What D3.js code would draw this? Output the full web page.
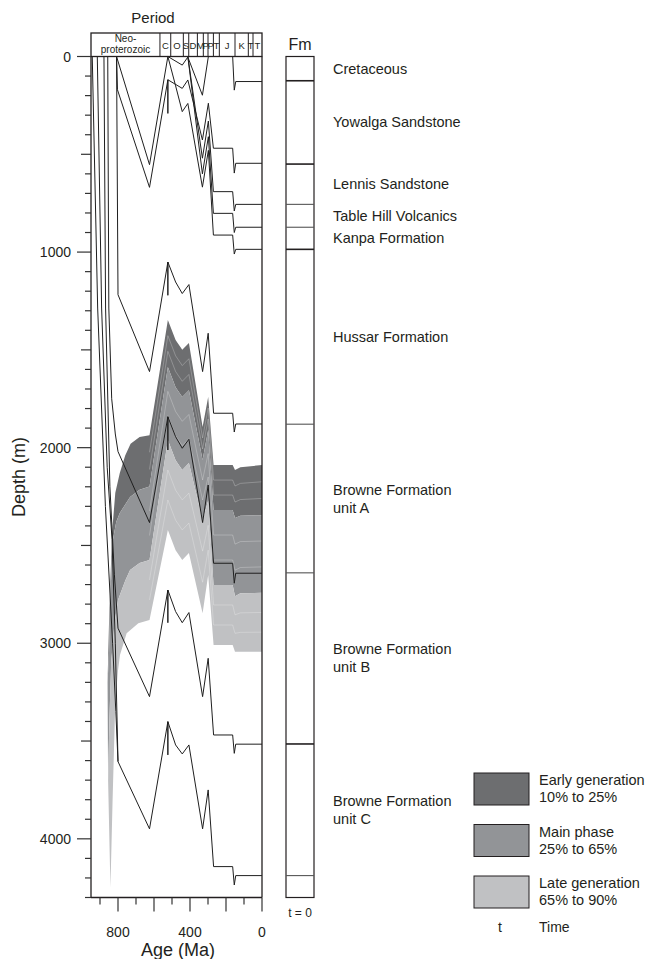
<!DOCTYPE html>
<html><head><meta charset="utf-8">
<script src="https://cdn.jsdelivr.net/npm/d3@7"></script>
<style>body{margin:0;background:#fff}text{font-family:"Liberation Sans",Arial,sans-serif;fill:#231f20}</style>
</head><body>
<svg id="c" width="650" height="959"></svg>
<script>
// ---------- data ----------
const ageTicks = [900,800,700,600,500,400,300,200,100,0];
const ageLabels = [800,400,0];
const depthTicks = d3.range(0,4301,100);
const depthLabels = [0,1000,2000,3000,4000];

const periodNames = ["Neo-|proterozoic","C","O","S","D","M","P","P","T","J","K","T","T"];
const periodBounds = [950,567,507,437,407,359,326,300,270,237,150,76,50,0];

const fmNames = ["Cretaceous","Yowalga Sandstone","Lennis Sandstone","Table Hill Volcanics","Kanpa Formation","Hussar Formation","Browne Formation|unit A","Browne Formation|unit B","Browne Formation|unit C"];
const fmBase = [124,550,756,873,986,1880,2640,3515,4188];
const fmBaseBold = [true,true,false,false,true,false,false,true,false];

// burial history horizons: [age Ma, depth m]
const hzErodedA = [[808,0],[625,553],[523,0]];
const hzErodedB = [[523,0],[443,44],[412,3],[331,198],[298,0]];
const hzCretaceous = [[163,0],[154,172],[146,128],[0,128]];
const hzYowalga = [[808,0],[803,170],[625,669],[523,119],[523,291],[523,119],[443,163],[412,120],[331,427],[298,239],[270,469],[163,469],[154,596],[146,546],[0,546]];
const hzLennis = [[412,0],[331,520],[298,330],[270,691],[163,691],[154,790],[146,756],[0,756]];
const hzTableHill = [[412,0],[331,600],[298,410],[270,802],[163,802],[154,900],[146,873],[0,873]];
const hzKanpa = [[523,0],[480,150],[443,282],[412,240],[331,668],[298,480],[270,913],[163,913],[154,1010],[146,986],[0,986]];
const hzHussar = [[808,0],[800,1218],[625,1611],[523,1051],[523,1221],[523,1051],[480,1153],[443,1212],[406,1166],[330,1611],[299,1415],[269,1824],[163,1824],[154,1920],[146,1879],[0,1879]];
const hzBrowneA = [[857,0],[851,1286],[835,1750],[815,1930],[800,2020],[625,2383],[523,1842],[523,2012],[523,1842],[480,1944],[443,2003],[406,1957],[330,2383],[299,2191],[269,2591],[163,2591],[154,2693],[146,2642],[0,2642]];
const hzBrowneB = [[878,0],[869,1286],[845,2200],[820,2650],[800,2923],[625,3273],[523,2728],[523,2895],[523,2728],[480,2838],[443,2895],[406,2843],[330,3273],[299,3077],[269,3469],[163,3469],[154,3563],[146,3516],[0,3516]];
const hzBrowneC = [[943,0],[913,1286],[870,2300],[830,3000],[812,3350],[800,3605],[625,3949],[523,3401],[523,3571],[523,3401],[480,3520],[443,3566],[406,3520],[330,3949],[299,3750],[269,4142],[163,4142],[154,4236],[146,4188],[0,4188]];
const hzExtra = [[915,0],[891,1286],[860,2100],[833,2471],[815,3000],[800,3605]];

// hydrocarbon generation window boundaries [age, depth]
const genEarlyTop = [[858,3200],[850,2900],[840,2620],[830,2400],[815,2230],[790,2130],[760,2040],[730,1980],[680,1945],[625,1936],[523,1347],[480,1450],[443,1500],[406,1465],[330,1894],[299,1741],[269,2089],[163,2089],[150,2114],[120,2100],[0,2089]];
const genMainTop = [[858,3200],[850,3050],[844,2800],[830,2480],[810,2380],[790,2334],[733,2252],[680,2215],[625,2199],[523,1588],[480,1691],[443,1741],[406,1706],[330,2063],[299,1910],[269,2319],[163,2319],[150,2360],[120,2348],[0,2345]];
const genLateTop = [[855,3700],[848,3400],[838,3100],[820,2900],[800,2779],[760,2680],[733,2625],[680,2590],[625,2574],[523,1961],[480,2064],[443,2114],[406,2079],[330,2370],[299,2270],[269,2702],[163,2702],[150,2760],[120,2745],[0,2742]];
const genLateBase = [[842,4250],[830,3800],[815,3300],[800,3140],[789,3060],[752,2949],[687,2898],[625,2881],[523,2421],[480,2524],[443,2574],[406,2539],[330,2847],[299,2651],[269,3009],[163,3009],[150,3044],[120,3044],[0,3044]];

const legendNames = ["Early generation|10% to 25%","Main phase|25% to 65%","Late generation|65% to 90%"];
const genColors = ["#6d6e70","#929497","#c0c1c3"];

// ---------- drawing ----------
const svg = d3.select("#c");
const x = d3.scaleLinear().domain([950,0]).range([91,262]);
const y = d3.scaleLinear().domain([0,4300]).range([56.5,897.5]);
const line = d3.line().x(d=>x(d[0])).y(d=>y(d[1]));

// generation bands
const bounds = [genEarlyTop,genMainTop,genLateTop,genLateBase];
for(let i=0;i<3;i++){
  const pts = bounds[i].concat(bounds[i+1].slice().reverse());
  svg.append("path").attr("d", line(pts)+"Z").attr("fill", genColors[i]).attr("stroke","none");
}
// faint internal subdivision lines (interpolated between band boundaries, ages <= 625)
for(let i=0;i<3;i++){
  const a = bounds[i].filter(p=>p[0]<=625), b = bounds[i+1].filter(p=>p[0]<=625);
  [1/3,2/3].forEach(fr=>{
    const pts = a.map((p,k)=>[p[0], p[1]+fr*(b[k][1]-p[1])]);
    svg.append("path").attr("d",line(pts)).attr("fill","none").attr("stroke","#fff").attr("stroke-opacity",0.35).attr("stroke-width",0.7);
  });
}

// horizons
const horizons = [hzErodedA,hzErodedB,hzCretaceous,hzYowalga,hzLennis,hzTableHill,hzKanpa,hzHussar,hzBrowneA,hzBrowneB,hzBrowneC,hzExtra];
svg.append("g").selectAll("path").data(horizons).join("path")
  .attr("d", line).attr("fill","none").attr("stroke","#1f1f1f").attr("stroke-width",1).attr("stroke-linejoin","miter");

// frame
const f = svg.append("g").attr("stroke","#231f20").attr("fill","none").attr("stroke-width",1.3);
f.append("rect").attr("x",91).attr("y",33).attr("width",171).attr("height",y(0)-33);
f.append("line").attr("x1",91).attr("x2",91).attr("y1",56.5).attr("y2",y(4300));
f.append("line").attr("x1",262).attr("x2",262).attr("y1",56.5).attr("y2",y(4300));
f.append("line").attr("x1",91).attr("x2",262).attr("y1",y(4300)).attr("y2",y(4300));

// period bar
periodBounds.slice(1,-1).forEach(a=>{
  svg.append("line").attr("x1",x(a)).attr("x2",x(a)).attr("y1",33).attr("y2",56.5).attr("stroke","#231f20").attr("stroke-width",1);
});
periodNames.forEach((n,i)=>{
  const cx = (x(periodBounds[i])+x(periodBounds[i+1]))/2;
  const parts = n.split("|");
  if(parts.length>1){
    parts.forEach((p,j)=>svg.append("text").attr("x",cx).attr("y",42+j*11).attr("text-anchor","middle").attr("font-size",10).text(p));
  } else {
    svg.append("text").attr("x",cx).attr("y",49).attr("text-anchor","middle").attr("font-size",9.5).text(n);
  }
});
svg.append("text").attr("x",153).attr("y",23).attr("text-anchor","middle").attr("font-size",15).text("Period");

// y axis ticks
depthTicks.forEach(d=>{
  const len = d%1000===0?14:(d%500===0?10:6);
  svg.append("line").attr("x1",91-len).attr("x2",91).attr("y1",y(d)).attr("y2",y(d)).attr("stroke","#333").attr("stroke-width",1.2);
});
depthLabels.forEach(d=>svg.append("text").attr("x",71).attr("y",y(d)+5).attr("text-anchor","end").attr("font-size",14).text(d));
svg.append("text").attr("transform",`translate(25,${y(2150)}) rotate(-90)`).attr("text-anchor","middle").attr("font-size",18).text("Depth (m)");

// x axis ticks
ageTicks.forEach(a=>{
  const len = a%200===0?14:7;
  svg.append("line").attr("x1",x(a)).attr("x2",x(a)).attr("y1",y(4300)).attr("y2",y(4300)+len).attr("stroke","#333").attr("stroke-width",1.2);
});
ageLabels.forEach(a=>svg.append("text").attr("x",x(a)).attr("y",937).attr("text-anchor","middle").attr("font-size",14).text(a));
svg.append("text").attr("x",178).attr("y",956).attr("text-anchor","middle").attr("font-size",18).text("Age (Ma)");

// formation column
const fx0=286, fx1=314;
svg.append("rect").attr("x",fx0).attr("y",y(0)).attr("width",fx1-fx0).attr("height",y(4300)-y(0)).attr("fill","none").attr("stroke","#231f20").attr("stroke-width",1.2);
fmBase.forEach((d,i)=>svg.append("line").attr("x1",fx0).attr("x2",fx1).attr("y1",y(d)).attr("y2",y(d))
  .attr("stroke",fmBaseBold[i]?"#231f20":"#555").attr("stroke-width",fmBaseBold[i]?1.6:1.1));
svg.append("text").attr("x",300).attr("y",50).attr("text-anchor","middle").attr("font-size",16).text("Fm");
svg.append("text").attr("x",300).attr("y",917).attr("text-anchor","middle").attr("font-size",12).text("t = 0");
fmNames.forEach((n,i)=>{
  const top = i===0?0:fmBase[i-1];
  const cy = y((top+fmBase[i])/2);
  const parts = n.split("|");
  parts.forEach((p,j)=>svg.append("text").attr("x",333).attr("y",cy+5+(j-(parts.length-1)/2)*18).attr("font-size",14.5).text(p));
});

// legend
legendNames.forEach((n,i)=>{
  const ty = 773+i*51.5;
  svg.append("rect").attr("x",474).attr("y",ty).attr("width",55).attr("height",32).attr("fill",genColors[i]).attr("stroke","#231f20").attr("stroke-width",1);
  n.split("|").forEach((p,j)=>svg.append("text").attr("x",539).attr("y",ty+17+j*17 -5).attr("font-size",14.5).text(p));
});
svg.append("text").attr("x",500).attr("y",932).attr("text-anchor","middle").attr("font-size",14).text("t");
svg.append("text").attr("x",539).attr("y",932).attr("font-size",14).text("Time");
</script>
</body></html>
